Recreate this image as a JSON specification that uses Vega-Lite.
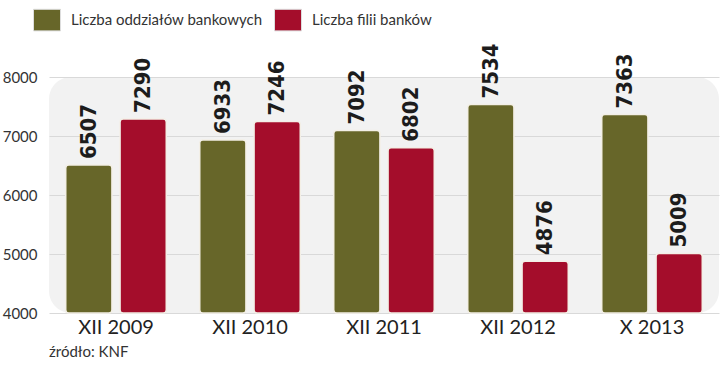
{
  "$schema": "https://vega.github.io/schema/vega-lite/v6.json",
  "width": 670,
  "height": 236,
  "autosize": "none",
  "padding": {"left": 49, "top": 77, "right": 1, "bottom": 54},
  "config": {
    "view": {"fill": "#f2f2f2", "stroke": null, "cornerRadius": 22},
    "font": "Lato"
  },
  "title": {"text": "źródło: KNF", "orient": "bottom", "anchor": "start", "frame": "group", "fontSize": 15, "fontWeight": "normal", "color": "#333", "font": "Lato", "offset": 8},
  "data": {
    "values": [
      {"okres": "XII 2009", "seria": "Liczba oddziałów bankowych", "wartosc": 6507},
      {"okres": "XII 2009", "seria": "Liczba filii banków", "wartosc": 7290},
      {"okres": "XII 2010", "seria": "Liczba oddziałów bankowych", "wartosc": 6933},
      {"okres": "XII 2010", "seria": "Liczba filii banków", "wartosc": 7246},
      {"okres": "XII 2011", "seria": "Liczba oddziałów bankowych", "wartosc": 7092},
      {"okres": "XII 2011", "seria": "Liczba filii banków", "wartosc": 6802},
      {"okres": "XII 2012", "seria": "Liczba oddziałów bankowych", "wartosc": 7534},
      {"okres": "XII 2012", "seria": "Liczba filii banków", "wartosc": 4876},
      {"okres": "X 2013", "seria": "Liczba oddziałów bankowych", "wartosc": 7363},
      {"okres": "X 2013", "seria": "Liczba filii banków", "wartosc": 5009}
    ]
  },
  "encoding": {
    "x": {
      "field": "okres", "type": "nominal", "sort": null,
      "scale": {"paddingInner": 0.25, "paddingOuter": 0.125},
      "axis": {"title": null, "labelAngle": 0, "ticks": false, "domain": false, "grid": false, "labelFontSize": 20, "labelColor": "#222", "labelPadding": 4, "labelFont": "Lato"}
    },
    "xOffset": {
      "field": "seria", "type": "nominal",
      "sort": ["Liczba oddziałów bankowych", "Liczba filii banków"],
      "scale": {"paddingInner": 0.15, "paddingOuter": 0}
    },
    "y": {
      "field": "wartosc", "type": "quantitative",
      "scale": {"domain": [4000, 8000], "zero": false, "nice": false},
      "axis": {"title": null, "values": [4000, 5000, 6000, 7000, 8000], "format": "d", "ticks": false, "domain": false, "labelFontSize": 15, "labelColor": "#333", "labelPadding": 12, "labelFont": "Lato", "gridColor": "#d9d9d9", "gridWidth": 1}
    }
  },
  "layer": [
    {
      "mark": {"type": "bar", "cornerRadius": 3, "stroke": "#f3efe6", "strokeWidth": 1.5},
      "encoding": {
        "y2": {"datum": 4000},
        "color": {
          "field": "seria", "type": "nominal",
          "sort": ["Liczba oddziałów bankowych", "Liczba filii banków"],
          "scale": {"domain": ["Liczba oddziałów bankowych", "Liczba filii banków"], "range": ["#676629", "#a40d2b"]},
          "legend": {
            "title": null, "orient": "none", "legendX": -16, "legendY": -71, "direction": "horizontal",
            "symbolType": "M-1,-0.8H1V0.8H-1Z", "symbolSize": 729, "symbolStrokeColor": "#dddddd", "symbolStrokeWidth": 1, "symbolOpacity": 1,
            "labelFont": "Lato", "labelFontSize": 15, "labelColor": "#333", "labelOffset": 10, "columnPadding": 9, "labelLimit": 400
          }
        }
      }
    },
    {
      "mark": {"type": "text", "angle": 270, "align": "left", "baseline": "middle", "dx": 6, "font": "DejaVu Sans Condensed", "fontWeight": "bold", "fontSize": 22, "color": "#1c1c1c", "clip": false},
      "encoding": {"text": {"field": "wartosc", "type": "quantitative", "format": "d"}}
    }
  ]
}
